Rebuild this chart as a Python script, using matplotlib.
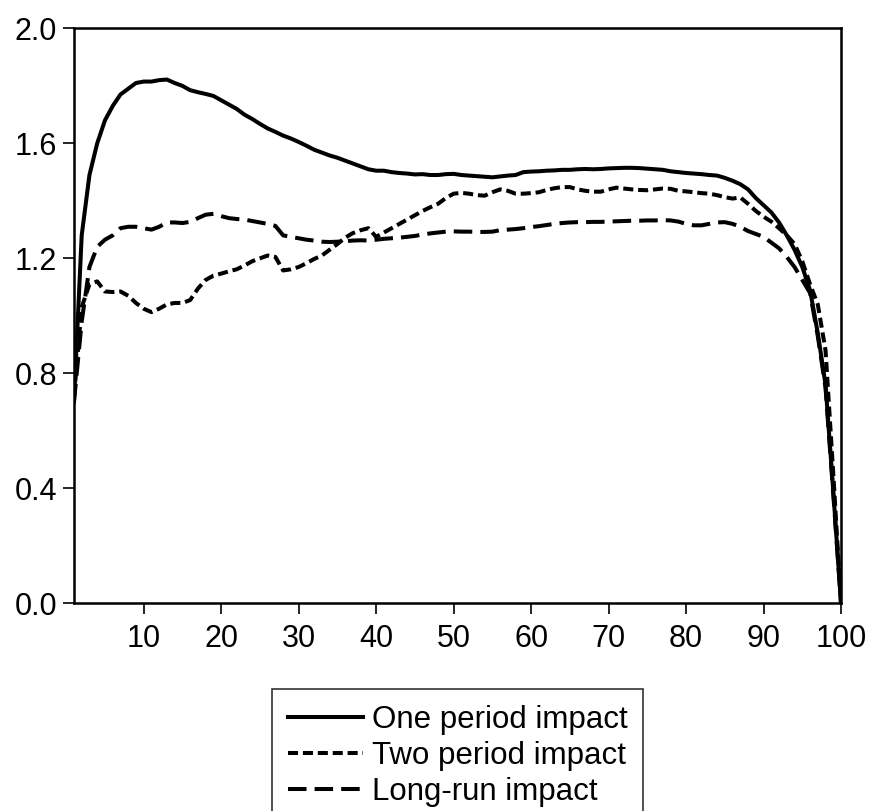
import numpy as np
import matplotlib
matplotlib.use("Agg")
import matplotlib.pyplot as plt
from matplotlib.ticker import FormatStrFormatter

plt.rcParams['font.family'] = ['Liberation Sans', 'DejaVu Sans']

# horizon 1..100
periods = np.arange(1, 101)

one_period = [
    0.70, 1.28, 1.49, 1.60, 1.68, 1.73, 1.77, 1.79, 1.81, 1.815,
    1.815, 1.82, 1.822, 1.81, 1.80, 1.785, 1.778, 1.772, 1.765, 1.75,
    1.735, 1.72, 1.70, 1.685, 1.668, 1.652, 1.64, 1.627, 1.617, 1.605,
    1.592, 1.578, 1.568, 1.558, 1.55, 1.54, 1.53, 1.52, 1.51, 1.505,
    1.505, 1.50, 1.497, 1.495, 1.492, 1.493, 1.49, 1.49, 1.493, 1.494,
    1.49, 1.488, 1.486, 1.484, 1.482, 1.485, 1.488, 1.49, 1.50, 1.502,
    1.503, 1.505, 1.506, 1.508, 1.508, 1.51, 1.511, 1.51, 1.511, 1.513,
    1.514, 1.515, 1.515, 1.514, 1.512, 1.51, 1.508, 1.503, 1.50, 1.497,
    1.495, 1.493, 1.49, 1.488, 1.48, 1.47, 1.458, 1.44, 1.41, 1.385,
    1.36, 1.325, 1.28, 1.23, 1.17, 1.09, 0.94, 0.76, 0.39, 0.0,
]

two_period = [
    0.72, 1.03, 1.11, 1.12, 1.085, 1.083, 1.085, 1.07, 1.045, 1.025,
    1.013, 1.025, 1.04, 1.045, 1.045, 1.055, 1.095, 1.125, 1.14, 1.147,
    1.155, 1.162, 1.175, 1.19, 1.20, 1.21, 1.205, 1.158, 1.162, 1.17,
    1.183, 1.198, 1.21, 1.23, 1.25, 1.272, 1.288, 1.298, 1.305, 1.275,
    1.29, 1.305, 1.32, 1.335, 1.35, 1.365, 1.378, 1.39, 1.41, 1.425,
    1.428, 1.425, 1.42, 1.418, 1.43, 1.44, 1.435, 1.425, 1.425, 1.427,
    1.43, 1.438, 1.444, 1.448, 1.448, 1.44, 1.435, 1.432, 1.432, 1.44,
    1.446, 1.443, 1.44, 1.438, 1.437, 1.44, 1.443, 1.442, 1.435, 1.433,
    1.43, 1.427, 1.425, 1.42, 1.413, 1.408, 1.412, 1.39, 1.365, 1.345,
    1.328, 1.305, 1.28, 1.25, 1.19, 1.11, 1.04, 0.88, 0.45, 0.0,
]

long_run = [
    0.70, 0.98, 1.17, 1.24, 1.265, 1.28, 1.305, 1.31, 1.31, 1.305,
    1.30, 1.31, 1.325, 1.325, 1.323, 1.327, 1.34, 1.352, 1.355, 1.347,
    1.34, 1.337, 1.335, 1.33, 1.325, 1.32, 1.313, 1.28, 1.275, 1.27,
    1.265, 1.262, 1.258, 1.257, 1.258, 1.26, 1.262, 1.263, 1.262, 1.265,
    1.268, 1.27, 1.272, 1.275, 1.278, 1.283, 1.287, 1.29, 1.293, 1.294,
    1.293, 1.293, 1.292, 1.292, 1.293, 1.298, 1.30, 1.302, 1.305, 1.309,
    1.312, 1.316, 1.32, 1.323, 1.325, 1.326, 1.326, 1.327, 1.327, 1.328,
    1.329, 1.33, 1.331, 1.331, 1.332, 1.332, 1.333, 1.332, 1.328, 1.32,
    1.315, 1.315, 1.32, 1.325, 1.326, 1.32, 1.31, 1.295, 1.285, 1.275,
    1.255, 1.235, 1.205, 1.17, 1.125, 1.08, 0.93, 0.75, 0.38, 0.0,
]

labels = ['One period impact', 'Two period impact', 'Long-run impact']

fig = plt.figure(figsize=(8.7, 8.11), dpi=100)
ax = fig.add_axes([0.085, 0.256, 0.8817, 0.709])

lw = 2.9
ax.plot(periods, one_period, color='black', lw=lw, label=labels[0])
ax.plot(periods, two_period, color='black', lw=lw, dashes=(2.5, 1.2), label=labels[1])
ax.plot(periods, long_run, color='black', lw=lw, dashes=(4.6, 2.0), label=labels[2])

ax.set_xlim(1, 100)
ax.set_ylim(0, 2.0)
ax.set_xticks(np.arange(10, 101, 10))
ax.set_yticks([0.0, 0.4, 0.8, 1.2, 1.6, 2.0])
ax.yaxis.set_major_formatter(FormatStrFormatter('%.1f'))
ax.tick_params(axis='both', direction='out', length=8, width=1.2,
               labelsize=22, colors='black')
ax.tick_params(axis='x', pad=6.5)
ax.tick_params(axis='y', pad=4)
for s in ax.spines.values():
    s.set_linewidth(1.8)
    s.set_color('black')

leg = fig.legend(loc='upper left', bbox_to_anchor=(0.3126, 0.1505),
                 fontsize=22.5, frameon=True, fancybox=False,
                 handlelength=2.4, handletextpad=0.3, labelspacing=0.2,
                 borderpad=0.5, borderaxespad=0)
leg.get_frame().set_edgecolor('black')
leg.get_frame().set_linewidth(1.2)

fig.savefig('out.png', dpi=100)
